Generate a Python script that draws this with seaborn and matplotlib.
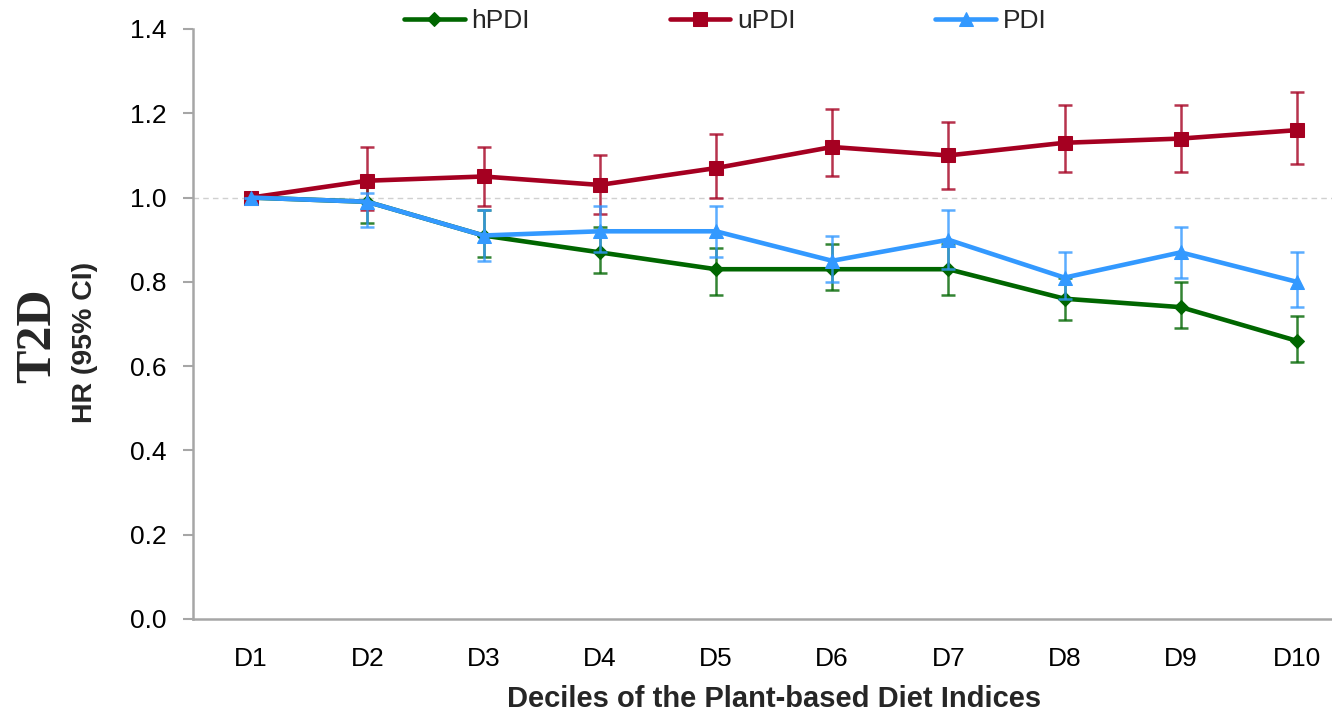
import matplotlib
matplotlib.use("Agg")
import matplotlib.pyplot as plt
from matplotlib import font_manager
import seaborn as sns
import pandas as pd
import numpy as np

# ---- data ----
deciles = ["D1", "D2", "D3", "D4", "D5", "D6", "D7", "D8", "D9", "D10"]
series_names = ["hPDI", "uPDI", "PDI"]

hpdi_hr = [1.00, 0.99, 0.91, 0.87, 0.83, 0.83, 0.83, 0.76, 0.74, 0.66]
hpdi_lo = [1.00, 0.94, 0.86, 0.82, 0.77, 0.78, 0.77, 0.71, 0.69, 0.61]
hpdi_hi = [1.00, 1.05, 0.97, 0.93, 0.88, 0.89, 0.89, 0.81, 0.80, 0.72]

updi_hr = [1.00, 1.04, 1.05, 1.03, 1.07, 1.12, 1.10, 1.13, 1.14, 1.16]
updi_lo = [1.00, 0.97, 0.98, 0.96, 1.00, 1.05, 1.02, 1.06, 1.06, 1.08]
updi_hi = [1.00, 1.12, 1.12, 1.10, 1.15, 1.21, 1.18, 1.22, 1.22, 1.25]

pdi_hr = [1.00, 0.99, 0.91, 0.92, 0.92, 0.85, 0.90, 0.81, 0.87, 0.80]
pdi_lo = [1.00, 0.93, 0.85, 0.87, 0.86, 0.80, 0.83, 0.76, 0.81, 0.74]
pdi_hi = [1.00, 1.01, 0.97, 0.98, 0.98, 0.91, 0.97, 0.87, 0.93, 0.87]

y_ticks = [0.0, 0.2, 0.4, 0.6, 0.8, 1.0, 1.2, 1.4]

colors = {"hPDI": "#006600", "uPDI": "#A50021", "PDI": "#3399FF"}
markers = {"hPDI": "D", "uPDI": "s", "PDI": "^"}
msizes = {"hPDI": 7.5, "uPDI": 10, "PDI": 10.5}

# ---- fonts ----
avail = {f.name for f in font_manager.fontManager.ttflist}
sans = "Liberation Sans" if "Liberation Sans" in avail else "DejaVu Sans"
narrow = "Liberation Sans Narrow" if "Liberation Sans Narrow" in avail else sans
serif = "Liberation Serif" if "Liberation Serif" in avail else "DejaVu Serif"

sns.set_theme(style="white")
plt.rcParams["font.family"] = [sans, "DejaVu Sans"]

rows = []
for name, hr in zip(series_names, [hpdi_hr, updi_hr, pdi_hr]):
    for i, (d, v) in enumerate(zip(deciles, hr)):
        rows.append({"idx": i, "decile": d, "series": name, "hr": v})
df = pd.DataFrame(rows)

fig = plt.figure(figsize=(13.32, 7.11), dpi=100)
ax = fig.add_axes([193 / 1332, 1 - 619 / 711, 1162 / 1332, 590 / 711])

ax.axhline(1.0, color="#d0d0d0", lw=1.0, ls=(0, (4, 3)), zorder=0)

ci = {"hPDI": (hpdi_lo, hpdi_hi), "uPDI": (updi_lo, updi_hi), "PDI": (pdi_lo, pdi_hi)}
for k, name in enumerate(series_names):
    sub = df[df["series"] == name]
    lo, hi = ci[name]
    yerr = [np.array(sub["hr"]) - np.array(lo), np.array(hi) - np.array(sub["hr"])]
    ax.errorbar(sub["idx"], sub["hr"], yerr=yerr, fmt="none", ecolor=colors[name],
                alpha=0.8, elinewidth=1.8, capsize=5, capthick=1.8, zorder=2 + 2 * k)
    sns.lineplot(data=sub, x="idx", y="hr", ax=ax, color=colors[name], lw=3.3,
                 marker=markers[name], markersize=msizes[name],
                 markeredgecolor=colors[name], label=name, zorder=3 + 2 * k,
                 errorbar=None)

ax.set_xlim(-0.5, 9.5)
ax.set_ylim(0, 1.4)
ax.set_xticks(range(len(deciles)))
ax.set_xticklabels(deciles, fontfamily=narrow, fontsize=19)
ax.set_yticks(y_ticks)
ax.set_yticklabels([f"{v:.1f}" for v in y_ticks], fontsize=19)
ax.tick_params(axis="x", length=0, pad=20, colors="#000000")
ax.tick_params(axis="y", length=7, width=1.5, color="#a6a6a6", pad=12, labelcolor="#000000", direction="out")
ax.yaxis.set_ticks_position("left")

for s in ["top", "right"]:
    ax.spines[s].set_visible(False)
for s in ["left", "bottom"]:
    ax.spines[s].set_color("#a6a6a6")
    ax.spines[s].set_linewidth(1.8)

ax.set_xlabel("Deciles of the Plant-based Diet Indices", fontfamily=narrow,
              fontweight="bold", fontsize=21, labelpad=10)
ax.set_ylabel("")

fig.text(85 / 1332, 1 - 342 / 711, "HR (95% CI)", rotation=90, ha="center", va="center",
         fontsize=20.5, fontweight="bold")
fig.text(38 / 1332, 1 - 336 / 711, "T2D", rotation=90, ha="center", va="center",
         fontsize=36, fontweight="bold", fontfamily=serif)

leg = ax.legend(loc="center left", bbox_to_anchor=(404 / 1332, 1 - 21 / 711),
                bbox_transform=fig.transFigure, ncol=3, frameon=False, fontsize=19,
                handlelength=2.3, handletextpad=0.25, columnspacing=5.3,
                borderpad=0, borderaxespad=0)

fig.savefig("out.png", dpi=100)
